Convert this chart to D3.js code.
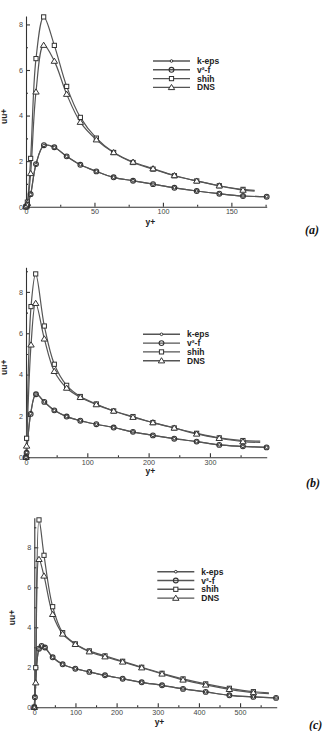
<!DOCTYPE html>
<html>
<head>
<meta charset="utf-8">
<script src="https://cdn.jsdelivr.net/npm/d3@7"></script>
<style>
  body { margin: 0; background: #fff; }
  svg { display: block; }
  .tick text { font-family: "Liberation Sans", Arial, sans-serif; font-size: 7.2px; fill: #444; }
  .lab { font-family: "Liberation Sans", Arial, sans-serif; font-size: 8.5px; font-weight: bold; fill: #222; }
  .tag { font-family: "Liberation Serif", "Times New Roman", serif; font-size: 12px; font-weight: bold; font-style: italic; fill: #111; }
</style>
</head>
<body>
<svg id="chart" width="326" height="731"></svg>
<script>

// ---- data ----

// panel (a)
var yPlusKepsA = [0, 1, 3.4, 7.3, 13.1, 20.7, 29.7, 39.7, 51.4, 64, 78.2, 92.8, 108.4, 124.7, 141.2, 158.5, 175.8];
var kepsA      = [0, 0.08, 0.54, 1.86, 2.69, 2.60, 2.21, 1.84, 1.55, 1.29, 1.14, 0.99, 0.83, 0.69, 0.57, 0.47, 0.44];
var v2fA       = [0, 0.08, 0.55, 1.87, 2.70, 2.61, 2.21, 1.84, 1.55, 1.29, 1.14, 0.99, 0.83, 0.69, 0.57, 0.47, 0.44];
var yPlusA     = [0, 1, 3.4, 7.3, 12.9, 20.7, 29.7, 39.7, 51.4, 64, 78.2, 92.8, 108.4, 124.7, 141.2, 158.5, 167];
var shihA      = [0, 0.2, 2.12, 6.5, 8.33, 7.08, 5.28, 3.92, 3.01, 2.38, 1.94, 1.65, 1.36, 1.13, 0.92, 0.76, 0.72];
var dnsA       = [0, 0.15, 1.46, 5.04, 7.09, 6.39, 4.94, 3.71, 2.94, 2.38, 1.96, 1.67, 1.37, 1.13, 0.92, 0.73, 0.68];

// panel (b)
var yPlusKepsB = [0, 1, 7.6, 16.3, 29.9, 46.2, 66.3, 88.6, 114.7, 143, 174.5, 207, 241.8, 278.3, 315.2, 353.8, 392.4];
var kepsB      = [0, 0.23, 2.11, 3.06, 2.68, 2.27, 1.97, 1.77, 1.60, 1.44, 1.23, 1.06, 0.90, 0.76, 0.60, 0.53, 0.48];
var v2fB       = [0, 0.22, 2.10, 3.05, 2.68, 2.27, 1.97, 1.77, 1.60, 1.44, 1.23, 1.06, 0.90, 0.76, 0.60, 0.53, 0.48];
var yPlusB     = [0, 1, 8.2, 15.8, 29.9, 46.2, 66.3, 88.6, 114.7, 143, 174.5, 207, 241.8, 278.3, 315.2, 353.8, 382];
var shihB      = [0, 0.92, 7.29, 8.87, 6.35, 4.5, 3.48, 2.94, 2.58, 2.24, 1.97, 1.68, 1.42, 1.16, 0.94, 0.81, 0.78];
var dnsB       = [0, 0.55, 5.44, 7.45, 5.73, 4.16, 3.35, 2.90, 2.55, 2.24, 1.94, 1.68, 1.42, 1.13, 0.92, 0.76, 0.72];

// panel (c)
var yPlusKepsC = [0, 1.5, 11.4, 17.8, 25.9, 44.6, 68.9, 99.7, 133.7, 171.8, 214.7, 261, 310.4, 361.4, 416.5, 474, 532.4, 587.5];
var kepsC      = [0, 0.5, 2.92, 3.07, 2.98, 2.5, 2.15, 1.93, 1.77, 1.6, 1.43, 1.25, 1.1, 0.92, 0.77, 0.6, 0.52, 0.47];
var v2fC       = [0, 0.5, 2.93, 3.07, 2.99, 2.5, 2.15, 1.93, 1.77, 1.6, 1.43, 1.25, 1.1, 0.92, 0.77, 0.6, 0.52, 0.47];
var yPlusC     = [0, 3.5, 11.4, 23.6, 44.6, 68.9, 99.7, 133.7, 171.8, 214.7, 261, 310.4, 361.4, 416.5, 474, 532.4, 570];
var shihC      = [0, 1.98, 9.37, 7.6, 5.03, 3.73, 3.17, 2.82, 2.57, 2.3, 2.0, 1.70, 1.42, 1.17, 0.95, 0.78, 0.72];
var dnsC       = [0, 1.23, 7.4, 6.57, 4.65, 3.67, 3.15, 2.78, 2.53, 2.27, 1.98, 1.67, 1.37, 1.12, 0.9, 0.73, 0.68];

var seriesNames = ["k-eps", "v\u00b2-f", "shih", "DNS"];

// ---- layout of the three panels ----
var panels = [
  { tag: "(a)", x0: 26, x1: 266.7, xMax: 175.8, xMajor: [0, 50, 100, 150], xMinor: [25, 75, 125, 175],
    y0: 206.7, y1: 16, yMax: 8.37, yMajor: [0, 2, 4, 6, 8], yMinor: [1, 3, 5, 7],
    yLabX: 7, xLabY: 224.5, tagX: 305, tagY: 234, legX: 153, legY: 61,
    kx: yPlusKepsA, keps: kepsA, v2f: v2fA, sx: yPlusA, shih: shihA, dns: dnsA },
  { tag: "(b)", x0: 26, x1: 266.7, xMax: 392.6, xMajor: [0, 100, 200, 300], xMinor: [50, 150, 250, 350],
    y0: 457.3, y1: 267.3, yMax: 9.19, yMajor: [0, 2, 4, 6, 8], yMinor: [1, 3, 5, 7, 9],
    yLabX: 7, xLabY: 474, tagX: 306, tagY: 487, legX: 143, legY: 334.3,
    kx: yPlusKepsB, keps: kepsB, v2f: v2fB, sx: yPlusB, shih: shihB, dns: dnsB },
  { tag: "(c)", x0: 34.3, x1: 276.7, xMax: 589, xMajor: [0, 100, 200, 300, 400, 500], xMinor: [50, 150, 250, 350, 450, 550],
    y0: 707.3, y1: 517.7, yMax: 9.48, yMajor: [0, 2, 4, 6, 8], yMinor: [1, 3, 5, 7, 9],
    yLabX: 15, xLabY: 724.5, tagX: 309, tagY: 729, legX: 157.3, legY: 571.7,
    kx: yPlusKepsC, keps: kepsC, v2f: v2fC, sx: yPlusC, shih: shihC, dns: dnsC }
];

var svg = d3.select("#chart");
var lineColor = "#555";
var markColor = "#333";

// marker painters
function drawMarker(g, type, cx, cy) {
  if (type === "keps") {
    g.append("circle").attr("cx", cx).attr("cy", cy).attr("r", 1.3)
      .attr("fill", "#fff").attr("stroke", markColor).attr("stroke-width", 1);
  } else if (type === "v2f") {
    g.append("circle").attr("cx", cx).attr("cy", cy).attr("r", 2.4)
      .attr("fill", "none").attr("stroke", markColor).attr("stroke-width", 1.1);
  } else if (type === "shih") {
    g.append("rect").attr("x", cx - 2.1).attr("y", cy - 2.1).attr("width", 4.2).attr("height", 4.2)
      .attr("fill", "#fff").attr("stroke", markColor).attr("stroke-width", 1);
  } else {
    g.append("path").attr("d", "M" + cx + "," + (cy - 3) + "L" + (cx + 3.2) + "," + (cy + 2.2) + "L" + (cx - 3.2) + "," + (cy + 2.2) + "Z")
      .attr("fill", "#fff").attr("stroke", markColor).attr("stroke-width", 1);
  }
}

panels.forEach(function(p) {
  var x = d3.scaleLinear().domain([0, p.xMax]).range([p.x0, p.x1]);
  var y = d3.scaleLinear().domain([0, p.yMax]).range([p.y0, p.y1]);
  var g = svg.append("g");

  // axes (ticks point into the plot)
  g.append("g").attr("transform", "translate(0," + p.y0 + ")")
    .call(d3.axisBottom(x).tickValues(p.xMinor).tickSize(-2).tickSizeOuter(0).tickFormat(""))
    .call(function(a) { a.select(".domain").remove(); });
  g.append("g").attr("transform", "translate(" + p.x0 + ",0)")
    .call(d3.axisLeft(y).tickValues(p.yMinor).tickSize(-2).tickSizeOuter(0).tickFormat(""))
    .call(function(a) { a.select(".domain").remove(); });
  g.append("g").attr("transform", "translate(0," + p.y0 + ")")
    .call(d3.axisBottom(x).tickValues(p.xMajor).tickSize(-4).tickSizeOuter(0).tickPadding(2.5));
  g.append("g").attr("transform", "translate(" + p.x0 + ",0)")
    .call(d3.axisLeft(y).tickValues(p.yMajor).tickSize(-4).tickSizeOuter(0).tickPadding(3));
  g.selectAll(".domain, .tick line").attr("stroke", "#333").attr("stroke-width", 1.1);

  // axis titles
  g.append("text").attr("class", "lab").attr("x", (p.x0 + p.x1) / 2 + 4).attr("y", p.xLabY)
    .attr("text-anchor", "middle").text("y+");
  g.append("text").attr("class", "lab")
    .attr("transform", "translate(" + p.yLabX + "," + ((p.y0 + p.y1) / 2 + 5) + ") rotate(-90)")
    .attr("text-anchor", "middle").text("uu+");
  g.append("text").attr("class", "tag").attr("x", p.tagX).attr("y", p.tagY).text(p.tag);

  var line = d3.line().curve(d3.curveCatmullRom.alpha(0.5))
    .x(function(d) { return x(d[0]); }).y(function(d) { return y(d[1]); });

  var series = [
    { key: "shih", pts: d3.zip(p.sx, p.shih), open: true },
    { key: "dns",  pts: d3.zip(p.sx, p.dns),  open: true },
    { key: "v2f",  pts: d3.zip(p.kx, p.v2f),  open: false },
    { key: "keps", pts: d3.zip(p.kx, p.keps), open: false }
  ];

  series.forEach(function(s) {
    g.append("path").attr("d", line(s.pts)).attr("fill", "none")
      .attr("stroke", lineColor).attr("stroke-width", 1.2);
  });
  series.forEach(function(s) {
    var pts = s.open ? s.pts.slice(0, -1) : s.pts;
    pts.forEach(function(d) { drawMarker(g, s.key, x(d[0]), y(d[1])); });
  });

  // legend
  var keys = ["keps", "v2f", "shih", "dns"];
  keys.forEach(function(k, i) {
    var ly = p.legY + i * 8.8;
    g.append("line").attr("x1", p.legX).attr("x2", p.legX + 37).attr("y1", ly).attr("y2", ly)
      .attr("stroke", lineColor).attr("stroke-width", 1.4);
    drawMarker(g, k, p.legX + 18.5, ly);
    g.append("text").attr("class", "lab").attr("x", p.legX + 44).attr("y", ly + 3).text(seriesNames[i]);
  });
});

</script>
</body>
</html>
